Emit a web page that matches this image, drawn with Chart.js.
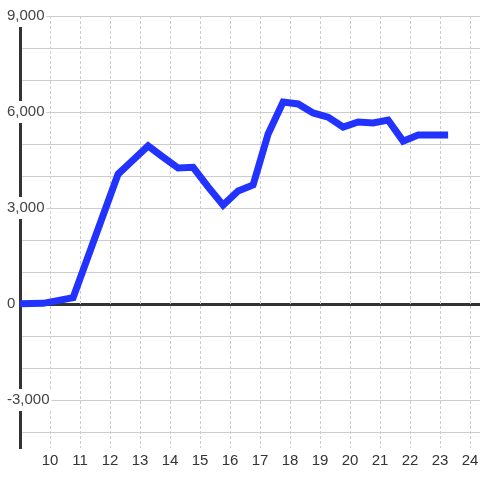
<!DOCTYPE html>
<html>
<head>
<meta charset="utf-8">
<script src="https://cdn.jsdelivr.net/npm/chart.js@4/dist/chart.umd.min.js"></script>
<style>
  html, body { margin: 0; padding: 0; background: #fff; }
  #box { width: 480px; height: 480px; }
</style>
</head>
<body>
<div id="box"><canvas id="lineChart"></canvas></div>
<script>
// x positions of the points (axis units) and their values
const xValues = [8.77, 9.77, 10.77, 12.27, 12.77, 13.27, 13.77, 14.27, 14.77, 15.27, 15.77,
  16.27, 16.77, 17.27, 17.77, 18.27, 18.77, 19.27, 19.77, 20.27, 20.77, 21.27, 21.77,
  22.27, 22.77, 23.27];
const yValues = [0, 20, 200, 4060, 4500, 4940, 4590, 4250, 4270, 3660, 3090,
  3530, 3720, 5310, 6310, 6250, 5970, 5840, 5530, 5690, 5660, 5750, 5090,
  5280, 5280, 5280];

// axis ticks
const xTicks = [10, 11, 12, 13, 14, 15, 16, 17, 18, 19, 20, 21, 22, 23, 24];
const yTicks = [-4000, -3000, -2000, -1000, 0, 1000, 2000, 3000, 4000, 5000, 6000, 7000, 8000, 9000];
const yLabelled = [-3000, 0, 3000, 6000, 9000];

const xMin = 9, xMax = 24.333;
const yMin = -4500, yMax = 9000;

var points = xValues.map((x, i) => {
  return { x: x, y: yValues[i] };
});

function fmt(v) {
  return v.toLocaleString('en-US');
}

const ctx = document.getElementById('lineChart').getContext('2d');
new Chart(ctx, {
  type: 'line',
  data: {
    datasets: [{
      data: points,
      borderColor: '#2233ff',
      borderWidth: 7,
      pointRadius: 0,
      tension: 0,
      fill: false
    }]
  },
  options: {
    responsive: true,
    maintainAspectRatio: false,
    animation: false,
    layout: { padding: { top: 16, left: 0, right: 0, bottom: 0 } },
    plugins: { legend: { display: false }, tooltip: { enabled: false } },
    scales: {
      y: {
        type: 'linear',
        min: yMin,
        max: yMax,
        afterBuildTicks: (scale) => {
          scale.ticks = yTicks.map(v => ({ value: v }));
        },
        afterFit: (scale) => {
          scale.width = 20;
          scale.paddingTop = 0;
          scale.paddingBottom = 0;
        },
        border: { display: true, color: '#333', width: 3 },
        grid: {
          drawTicks: false,
          color: (c) => (c.tick.value === 0 ? '#333' : '#cccccc'),
          lineWidth: (c) => (c.tick.value === 0 ? 3 : 1)
        },
        ticks: {
          autoSkip: false,
          mirror: true,
          padding: -13,
          color: '#444',
          font: { family: 'Liberation Sans', size: 15 },
          showLabelBackdrop: (c) => yLabelled.includes(c.tick.value),
          backdropColor: '#ffffff',
          backdropPadding: 2,
          callback: (v) => (yLabelled.includes(v) ? fmt(v) : '')
        }
      },
      x: {
        type: 'linear',
        min: xMin,
        max: xMax,
        afterBuildTicks: (scale) => {
          scale.ticks = xTicks.map(v => ({ value: v }));
        },
        afterFit: (scale) => {
          scale.height = 32;
          scale.paddingLeft = 0;
          scale.paddingRight = 0;
        },
        border: { display: false, dash: [3, 2] },
        grid: {
          drawTicks: false,
          color: '#cccccc'
        },
        ticks: {
          autoSkip: false,
          maxRotation: 0,
          padding: 4,
          color: '#333',
          font: { family: 'Liberation Sans', size: 15 },
          callback: (v) => String(v)
        }
      }
    }
  }
});
</script>
</body>
</html>
